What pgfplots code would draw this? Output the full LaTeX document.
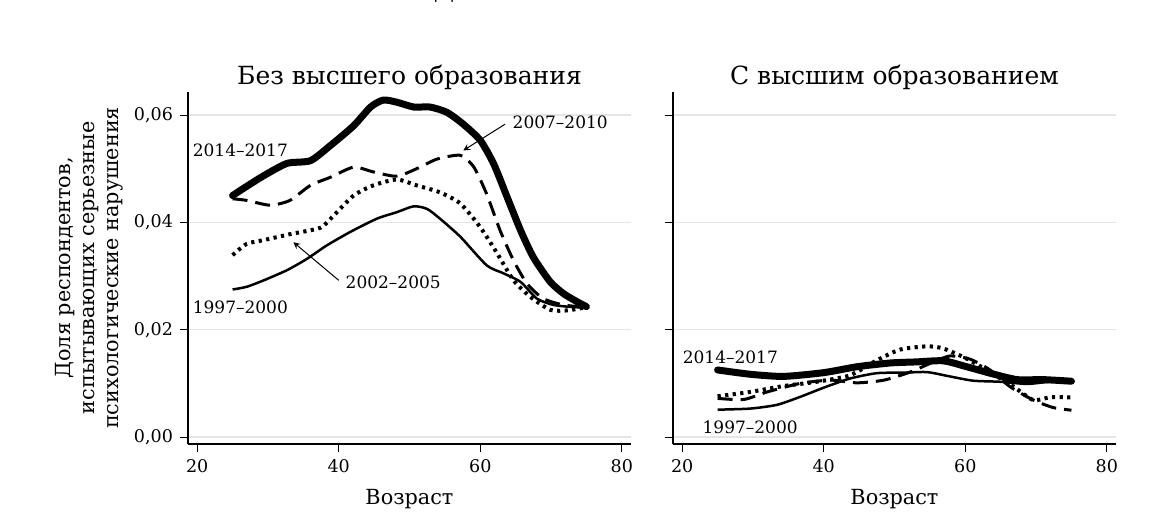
\documentclass[border=0pt]{standalone}
\usepackage{fontspec}
\setmainfont{DejaVu Serif}
\usepackage{pgfplots}
\pgfplotsset{compat=1.18}

\pgfplotsset{
  panel/.style={
    scale only axis,
    width=221.5bp, height=176bp,
    xmin=18.7, xmax=81.3,
    ymin=-0.0013, ymax=0.0643,
    axis x line=bottom, axis y line=left,
    axis line style={line width=1bp, -},
    xtick={20,40,60,80},
    ytick={0,0.02,0.04,0.06},
    tick align=outside,
    major tick length=4bp,
    tick style={line width=0.5bp, black},
    ymajorgrids,
    grid style={black!10, line width=0.6bp},
    scaled y ticks=false,
    yticklabel style={/pgf/number format/.cd, fixed, fixed zerofill, precision=2, use comma},
    tick label style={font=\fontsize{8.75bp}{10bp}\selectfont},
    /pgf/number format/assume math mode=true,
    clip=false,
  },
}
\tikzset{
  s1997/.style={black, line width=1.25bp, smooth, tension=0.4},
  s2002/.style={black, line width=2bp, dash pattern=on 1.6bp off 2.2bp, smooth, tension=0.4},
  s2007/.style={black, line width=1.5bp, dash pattern=on 7.5bp off 4bp, smooth, tension=0.4},
  s2014/.style={black, line width=3.5bp, line join=round, line cap=round, smooth, tension=0.4},
  lab/.style={font=\fontsize{8.5bp}{10bp}\selectfont, inner sep=1bp},
}

\begin{document}
\begin{tikzpicture}
\useasboundingbox (0,0) rectangle (583.5bp,-264bp);

% left panel: без высшего образования
\begin{axis}[panel, at={(94bp,-222bp)}, anchor=south west]
\addplot[s1997] coordinates {
 (25,0.0275)(27,0.0280)(29.4,0.0292)(32.7,0.0311)(35.5,0.0332)(38.3,0.0357)
 (41.6,0.0382)(45.4,0.0407)(48.2,0.0419)(50.6,0.0430)(52.5,0.0425)(54.3,0.0407)
 (57.2,0.0373)(60.9,0.0320)(63.3,0.0305)(65.7,0.0289)(68,0.0258)(70.4,0.0246)
 (73.3,0.0242)(75,0.0242)};
\addplot[s2002] coordinates {
 (25,0.0339)(27,0.0360)(29.4,0.0367)(33.1,0.0378)(37.4,0.0390)(39.3,0.0413)
 (42.1,0.0450)(44.9,0.0469)(48.2,0.0480)(51,0.0469)(54.3,0.0456)(57.2,0.0435)
 (60,0.0391)(62.4,0.0342)(64.7,0.0292)(67.1,0.0261)(69.9,0.0237)(72.3,0.0236)
 (74.6,0.0241)};
\addplot[s2007] coordinates {
 (25,0.0444)(27,0.0441)(30.3,0.0432)(33.1,0.0441)(36,0.0469)(38.8,0.0484)
 (42.1,0.0503)(44.9,0.0494)(48.2,0.0486)(51,0.0500)(53.9,0.0518)(57.2,0.0525)
 (59.1,0.0503)(60.9,0.0453)(62.8,0.0385)(64.7,0.0329)(66.6,0.0286)(68.9,0.0258)
 (71.8,0.0246)(75,0.0242)};
\addplot[s2014] coordinates {
 (25,0.0450)(26.5,0.0463)(29.4,0.0487)(32.7,0.0510)(36.0,0.0515)(38.8,0.0543)
 (42.1,0.0580)(44.5,0.0615)(46.3,0.0628)(48.2,0.0624)(50.6,0.0615)(52.9,0.0615)
 (55.3,0.0605)(57.6,0.0583)(60.0,0.0553)(61.9,0.0509)(63.8,0.0447)(65.7,0.0385)
 (67.5,0.0335)(69.9,0.0289)(71.8,0.0267)(73.7,0.0252)(75,0.0243)};
\node[lab] at (axis cs:26.1,0.0534) {2014–2017};
\node[lab] at (axis cs:71.3,0.0587) {2007–2010};
\node[lab] at (axis cs:47.7,0.0289) {2002–2005};
\node[lab] at (axis cs:26.1,0.0242) {1997–2000};
\draw[->, >=stealth, line width=0.5bp] (axis cs:63.5,0.0583) -- (axis cs:57.6,0.0534);
\draw[->, >=stealth, line width=0.5bp] (axis cs:40.0,0.0292) -- (axis cs:33.6,0.0363);
\end{axis}

% right panel: с высшим образованием
\begin{axis}[panel, at={(336.5bp,-222bp)}, anchor=south west, yticklabels={}]
\addplot[s1997] coordinates {
 (25,0.0051)(29.6,0.0053)(33.4,0.0060)(36.7,0.0075)(40,0.0092)(43.7,0.0109)
 (47.5,0.0119)(51.3,0.0120)(54.6,0.0121)(57.8,0.0113)(61.1,0.0105)(64.9,0.0103)
 (68.7,0.0099)(72,0.0103)(75,0.0103)};
\addplot[s2002] coordinates {
 (25,0.0076)(29.6,0.0084)(34.3,0.0095)(39,0.0103)(43.7,0.0115)(47.5,0.0143)
 (50.8,0.0163)(54.6,0.0169)(56.9,0.0165)(60.2,0.0146)(63.5,0.0121)(66.8,0.0094)
 (69.6,0.0069)(72,0.0074)(75,0.0074)};
\addplot[s2007] coordinates {
 (25,0.0072)(28.7,0.0070)(32,0.0084)(36.7,0.0100)(41,0.0106)(44.7,0.0101)
 (48.5,0.0106)(52.2,0.0121)(55,0.0137)(57.8,0.0151)(60.7,0.0145)(63.5,0.0125)
 (66.3,0.0094)(69.6,0.0069)(72.4,0.0055)(75,0.0050)};
\addplot[s2014] coordinates {
 (25,0.0125)(29.6,0.0117)(34.3,0.0113)(40,0.0120)(44.7,0.0131)(49.4,0.0138)
 (53.1,0.0140)(56.9,0.0142)(60.2,0.0131)(63.5,0.0119)(67.3,0.0107)(71,0.0107)
 (75,0.0104)};
\node[lab] at (axis cs:26.8,0.0149) {2014–2017};
\node[lab] at (axis cs:29.6,0.0019) {1997–2000};
\end{axis}

% texts, in pixel units of the reference
\begin{scope}[x=0.5bp, y=-0.5bp]
\node[anchor=south, inner sep=0pt, font=\fontsize{12.5bp}{14bp}\selectfont] at (444,3) {Д};
\node[anchor=base, inner sep=0pt, font=\fontsize{12.5bp}{14bp}\selectfont] at (409.5,85) {Без высшего образования};
\node[anchor=base, inner sep=0pt, font=\fontsize{12.5bp}{14bp}\selectfont] at (894.5,85) {С высшим образованием};
\node[anchor=base, inner sep=0pt, font=\fontsize{10.4bp}{12bp}\selectfont] at (409.5,505) {Возраст};
\node[anchor=base, inner sep=0pt, font=\fontsize{10.4bp}{12bp}\selectfont] at (894.5,505) {Возраст};
\node[rotate=90, align=center, inner sep=0pt, font=\fontsize{10.4bp}{12bp}\selectfont] at (89,268)
  {Доля респондентов,\\испытывающих серьезные\\психологические нарушения};
\end{scope}
\end{tikzpicture}
\end{document}
